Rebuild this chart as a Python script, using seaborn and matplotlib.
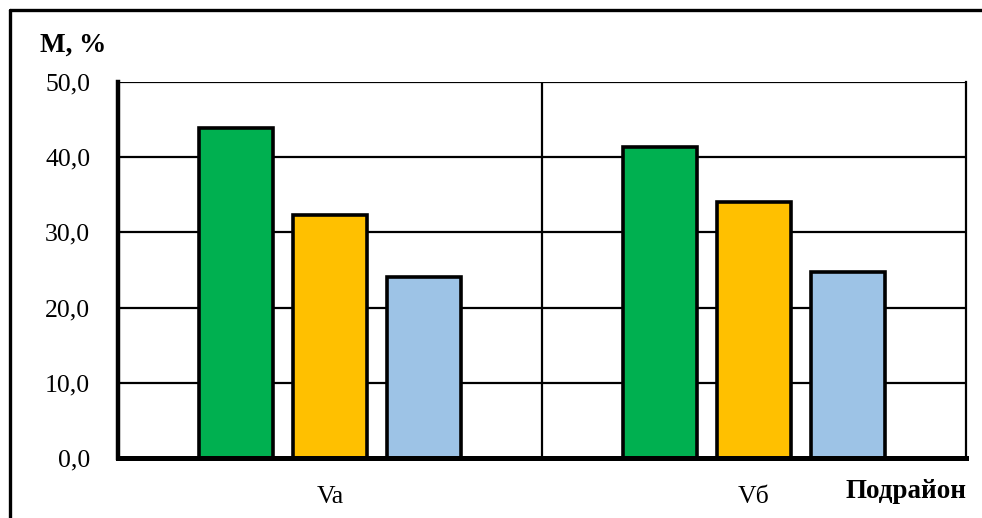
import matplotlib.pyplot as plt
import pandas as pd
import seaborn as sns
from matplotlib.lines import Line2D
from matplotlib.ticker import FuncFormatter

subdistricts = ["Va", "Vб"]
series = ["s1", "s2", "s3"]
values_va = [43.9, 32.3, 24.1]
values_vb = [41.4, 34.0, 24.7]
colors = ["#00B050", "#FFC000", "#9DC3E6"]
y_ticks = [0, 10, 20, 30, 40, 50]


def main():
    sns.set_theme(style="white")
    plt.rcParams["font.family"] = ["Liberation Serif", "DejaVu Serif"]

    df = pd.DataFrame({
        "subdistrict": [subdistricts[0]] * 3 + [subdistricts[1]] * 3,
        "series": series * 2,
        "value": values_va + values_vb,
    })

    fig = plt.figure(figsize=(9.82, 5.18), dpi=100)
    fig.patch.set_facecolor("white")
    ax = fig.add_axes([118 / 982, 1 - 458 / 518, 848 / 982, 376 / 518])

    sns.barplot(
        data=df,
        x="subdistrict",
        y="value",
        hue="series",
        palette=dict(zip(series, colors)),
        saturation=1,
        width=0.665,
        gap=0.223,
        edgecolor="black",
        linewidth=2.6,
        legend=False,
        ax=ax,
    )

    ax.set_xlim(-0.5, 1.5)
    ax.set_ylim(0, 50)
    ax.set_yticks(y_ticks)
    ax.yaxis.set_major_formatter(FuncFormatter(lambda v, _: f"{v:.1f}".replace(".", ",")))
    ax.set_axisbelow(True)
    for t in y_ticks[1:]:
        ax.axhline(t, color="black", lw=1.6, zorder=0)
    ax.axvline(0.5, color="black", lw=1.6, zorder=0)

    ax.set_xlabel("")
    ax.set_ylabel("")
    ax.tick_params(axis="both", length=0, labelsize=18.5, colors="black")
    ax.tick_params(axis="y", pad=20)
    ax.tick_params(axis="x", pad=20)

    for side in ["left", "bottom"]:
        ax.spines[side].set_visible(True)
        ax.spines[side].set_color("black")
    ax.spines["left"].set_linewidth(3.2)
    ax.spines["bottom"].set_linewidth(3.6)
    ax.spines["right"].set_color("black")
    ax.spines["right"].set_linewidth(1.6)
    ax.spines["top"].set_visible(False)

    fig.text(40 / 982, 1 - 45 / 518, "M, %", fontsize=19.5, fontweight="bold",
             va="center", ha="left", color="black")
    fig.text(966 / 982, 1 - 492 / 518, "Подрайон", fontsize=19.5, fontweight="bold",
             va="center", ha="right", color="black")

    # outer frame: only top and left edges are visible in the crop
    x0 = 10 / 982
    y0 = 1 - 10 / 518
    fig.add_artist(Line2D([x0, 1.0], [y0, y0], transform=fig.transFigure,
                          color="black", lw=2.4))
    fig.add_artist(Line2D([x0, x0], [0.0, y0], transform=fig.transFigure,
                          color="black", lw=2.4))

    fig.savefig("out.png", dpi=100, facecolor="white")
    plt.close(fig)


if __name__ == "__main__":
    main()
